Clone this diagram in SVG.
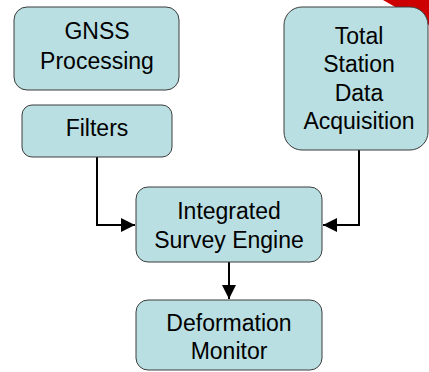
<svg xmlns="http://www.w3.org/2000/svg" width="429" height="372" viewBox="0 0 429 372">
  <style>
    .box { fill: #b9dfe2; stroke: #3c3c3c; stroke-width: 1; }
    .lbl { font-family: "Liberation Sans", Arial, sans-serif; font-size: 23px; fill: #000; text-anchor: middle; }
    .wire { fill: none; stroke: #000; stroke-width: 2; }
  </style>
  <defs>
    <marker id="arrowL" viewBox="0 0 10 10" refX="10" refY="5" markerWidth="7" markerHeight="7" orient="auto" markerUnits="strokeWidth">
      <path d="M0,0 L10,5 L0,10 z" fill="#000"/>
    </marker>
  </defs>

  <rect width="429" height="372" fill="#fff"/>
  <!-- red corner accent -->
  <polygon points="383,0 429,0 429,25 397,8" fill="#cc0000"/>

  <g id="connectors">
    <path class="wire" d="M97,157 V225 H135" marker-end="url(#arrowL)"/>
    <path class="wire" d="M359,150 V225 H323" marker-end="url(#arrowL)"/>
    <path class="wire" d="M229,262 V299" marker-end="url(#arrowL)"/>
  </g>

  <g id="gnss">
    <rect class="box" x="14" y="7" width="165" height="83" rx="13"/>
    <text class="lbl" x="97" y="39">GNSS</text>
    <text class="lbl" x="97" y="69">Processing</text>
  </g>

  <g id="filters">
    <rect class="box" x="22" y="105" width="150" height="52" rx="10"/>
    <text class="lbl" x="97" y="136">Filters</text>
  </g>

  <g id="total-station">
    <rect class="box" x="284" y="7" width="144" height="143" rx="18"/>
    <text class="lbl" x="359" y="44">Total</text>
    <text class="lbl" x="359" y="72">Station</text>
    <text class="lbl" x="359" y="101">Data</text>
    <text class="lbl" x="359" y="129">Acquisition</text>
  </g>

  <g id="engine">
    <rect class="box" x="136" y="187" width="186" height="75" rx="12"/>
    <text class="lbl" x="229" y="219">Integrated</text>
    <text class="lbl" x="229" y="248">Survey Engine</text>
  </g>

  <g id="deformation">
    <rect class="box" x="136" y="300" width="186" height="70" rx="12"/>
    <text class="lbl" x="229" y="331">Deformation</text>
    <text class="lbl" x="229" y="359">Monitor</text>
  </g>
</svg>
